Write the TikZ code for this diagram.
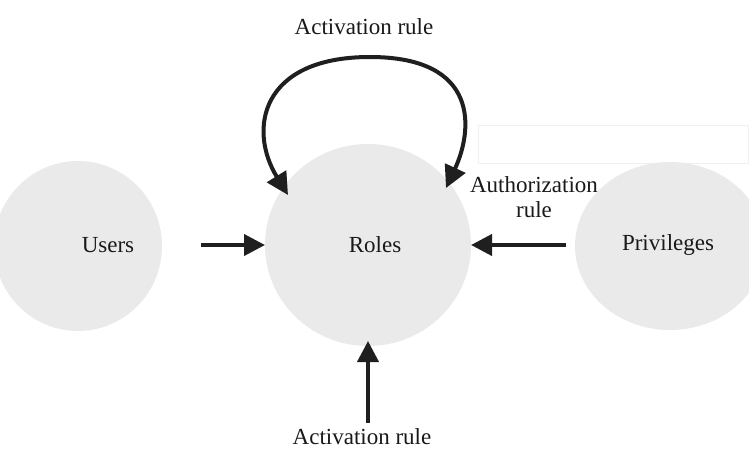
\documentclass[tikz,border=0pt]{standalone}
\usepackage{fontspec}
\setmainfont{Liberation Serif}
\usetikzlibrary{arrows.meta}
\definecolor{bub}{RGB}{234,234,234}
\definecolor{faint}{RGB}{240,240,240}
\tikzset{
  lbl/.style={font=\fontsize{23}{26}\selectfont, text=black!90, align=center, inner sep=0pt},
  arr/.style={line width=4pt, draw=black!88, -{Triangle[length=21pt,width=21pt]}},
  darr/.style={line width=4pt, draw=black!88, {Triangle[length=22pt,width=22pt]}-{Triangle[length=22pt,width=22pt]}}
}
\begin{document}
\begin{tikzpicture}[x=1pt,y=-1pt]
\useasboundingbox (0,0) rectangle (749,450);
\fill[white] (0,0) rectangle (749,450);
\draw[faint, line width=0.8pt] (478,125) rectangle (748,163);
% ellipses
\fill[bub] (78,246) ellipse (84 and 85);
\node[lbl] (users) at (108,245) {Users};
\fill[bub] (368,245) ellipse (103 and 101);
\node[lbl] (roles) at (375,245) {Roles};
\fill[bub] (670,246) ellipse (95 and 84);
\node[lbl] (priv) at (668,245) {Privileges};
% labels
\node[lbl] (acttop) at (364,27) {Activation rule};
\node[lbl] (auth) at (534,197) {Authorization\\[-1pt]rule};
\node[lbl] (actbot) at (362,437) {Activation rule};
% arrow endpoints
\coordinate (u1) at (201,245);
\coordinate (u2) at (265,245);
\coordinate (p1) at (566,245);
\coordinate (p2) at (471,245);
\coordinate (b1) at (368,423);
\coordinate (b2) at (368,341);
\coordinate (lt) at (288,195);
\coordinate (rt) at (446,188);
\draw[arr] (u1) -- (u2);
\draw[arr] (p1) -- (p2);
\draw[arr] (b1) -- (b2);
\draw[darr] (lt) .. controls (248,130) and (260,57) .. (370,57) .. controls (480,57) and (473,130) .. (rt);
\end{tikzpicture}
\end{document}
